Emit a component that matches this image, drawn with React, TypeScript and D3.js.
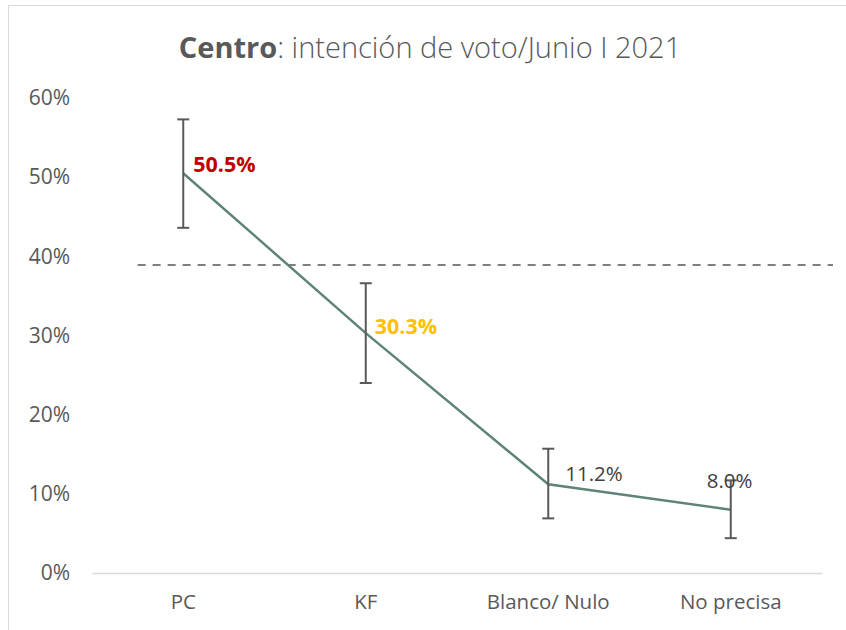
import { useRef, useEffect } from 'react'
import * as d3 from 'd3'

const categories = ['PC', 'KF', 'Blanco/ Nulo', 'No precisa']
const values = [50.5, 30.3, 11.2, 8.0]
const errLow = [43.6, 24.0, 6.9, 4.4]
const errHigh = [57.3, 36.6, 15.7, 11.7]
const labelColors = ['#C00000', '#FFC000', '#404040', '#404040']
const labelBold = [true, true, false, false]
const yTicks = [0, 10, 20, 30, 40, 50, 60]
const refLevel = 38.9

const FONT = '"Open Sans", Lato, sans-serif'

export default function App() {
  const svgRef = useRef<SVGSVGElement>(null)
  const width = 846
  const height = 630

  useEffect(() => {
    if (!svgRef.current) return
    const svg = d3.select(svgRef.current)
    svg.selectAll('*').remove()

    const margin = { top: 98, right: 24, bottom: 57, left: 92 }
    const innerWidth = width - margin.left - margin.right
    const innerHeight = height - margin.top - margin.bottom

    // chart frame
    svg.append('rect')
      .attr('x', 8.5).attr('y', 5.5).attr('width', width).attr('height', height)
      .attr('fill', '#fff').attr('stroke', '#d9d9d9')

    const g = svg.append('g').attr('transform', `translate(${margin.left},${margin.top})`)

    const x = d3.scaleBand().domain(categories).range([0, innerWidth])
    const y = d3.scaleLinear().domain([0, 60]).range([innerHeight, 0])
    const cx = (c: string) => (x(c) ?? 0) + x.bandwidth() / 2

    // Title
    const title = svg.append('text')
      .attr('x', 430).attr('y', 58)
      .attr('text-anchor', 'middle')
      .attr('font-family', FONT).attr('font-size', '29px').attr('fill', '#595959')
    title.append('tspan').attr('font-weight', 'bold').text('Centro')
    title.append('tspan').attr('font-weight', 300).text(': intención de voto/Junio I 2021')

    // Y axis labels
    g.append('g')
      .call(d3.axisLeft(y).tickValues(yTicks).tickSize(0).tickPadding(22).tickFormat((d) => `${d}%`))
      .call((s) => s.select('.domain').remove())
      .call((s) => s.selectAll('text').attr('fill', '#595959').attr('font-size', '21px').attr('font-family', FONT))

    // X axis
    g.append('g')
      .attr('transform', `translate(0,${innerHeight})`)
      .call(d3.axisBottom(x).tickSize(0).tickPadding(21))
      .call((s) => s.select('.domain').attr('stroke', '#d9d9d9').attr('stroke-width', 1.5))
      .call((s) => s.selectAll('text').attr('fill', '#595959').attr('font-size', '20.5px').attr('font-family', FONT))

    // Reference dashed line
    g.append('line')
      .attr('x1', cx(categories[0]) - x.bandwidth() / 4)
      .attr('x2', innerWidth + 11)
      .attr('y1', y(refLevel)).attr('y2', y(refLevel))
      .attr('stroke', '#7f7f7f').attr('stroke-width', 2)
      .attr('stroke-dasharray', '8,7')

    // Line
    const line = d3.line<number>().x((_, i) => cx(categories[i])).y((d) => y(d))
    g.append('path')
      .datum(values)
      .attr('fill', 'none')
      .attr('stroke', '#5f8477')
      .attr('stroke-width', 2.5)
      .attr('d', line)

    // Error bars
    categories.forEach((c, i) => {
      const px = cx(c)
      g.append('line')
        .attr('x1', px).attr('x2', px)
        .attr('y1', y(errLow[i])).attr('y2', y(errHigh[i]))
        .attr('stroke', '#595959').attr('stroke-width', 2)
      for (const v of [errLow[i], errHigh[i]]) {
        g.append('line')
          .attr('x1', px - 6).attr('x2', px + 6)
          .attr('y1', y(v)).attr('y2', y(v))
          .attr('stroke', '#595959').attr('stroke-width', 2)
      }
    })

    // Value labels
    const offsets = [[10, -1], [9, 1], [17, -3], [-24, -22]]
    values.forEach((v, i) => {
      g.append('text')
        .attr('x', cx(categories[i]) + offsets[i][0])
        .attr('y', y(v) + offsets[i][1])
        .attr('fill', labelColors[i])
        .attr('font-family', FONT)
        .attr('font-size', labelBold[i] ? '21.5px' : '20.5px')
        .attr('font-weight', labelBold[i] ? 'bold' : 'normal')
        .text(`${v.toFixed(1)}%`)
    })
  }, [])

  return <svg ref={svgRef} width={width} height={height} style={{ position: 'absolute', left: 0, top: 0 }} />
}
